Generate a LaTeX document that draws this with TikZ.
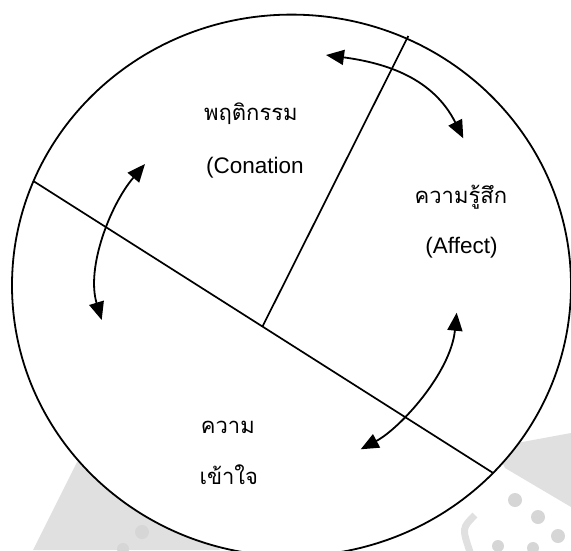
\documentclass[tikz,border=0pt]{standalone}
\usepackage{fontspec}
\setmainfont{Liberation Sans}
\newfontfamily\thaifont[Script=Thai]{Loma}
\usetikzlibrary{arrows.meta}
\definecolor{wm}{HTML}{E0E0E0}
\definecolor{wmdot}{HTML}{D6D6D6}
\tikzset{
  thai/.style={inner sep=0pt, font=\thaifont\fontsize{22}{26}\selectfont},
  latin/.style={inner sep=0pt, font=\fontsize{22.5}{26}\selectfont},
  divider/.style={line width=1.7pt, black},
  dblarrow/.style={line width=1.8pt, {Triangle[length=18pt,width=15pt]}-{Triangle[length=18pt,width=15pt]}},
}
\begin{document}
\begin{tikzpicture}[x=1pt,y=-1pt]
\useasboundingbox (0,0) rectangle (571,550);
% faint watermark
\fill[wm] (33,550) -- (77,462) -- (170,470) -- (220,550) -- cycle;
\fill[wm] (495,447) -- (571,433) -- (571,507) -- (505,468) -- cycle;
\fill[wmdot] (142,532) circle (7);
\fill[wmdot] (123,549) circle (6);
\fill[wmdot] (515,500) circle (7);
\fill[wmdot] (538,517) circle (7);
\fill[wmdot] (558,536) circle (7);
\fill[wmdot] (533,548) circle (6);
\fill[wmdot] (498,546) circle (6);
\draw[wm, line width=7pt] (475,515) .. controls (462,528) .. (470,552);
% ellipse
\filldraw[fill=white, draw=black, line width=1.8pt] (291.5,285.4) ellipse [x radius=279.5, y radius=270.8];
% dividers
\coordinate (L1a) at (33.3,181);
\coordinate (L1b) at (492.7,472.7);
\coordinate (L2a) at (408.3,36);
\coordinate (L2b) at (262.5,326.5);
\draw[divider] (L1a) -- (L1b);
\draw[divider] (L2a) -- (L2b);
% arrows
\coordinate (A1) at (326,55);
\coordinate (A2) at (463.3,138.3);
\coordinate (B1) at (145,164);
\coordinate (B2) at (101.7,320);
\coordinate (C1) at (456.7,312.7);
\coordinate (C2) at (360.7,449.3);
\draw[dblarrow] (A1) .. controls (386,63) and (433,78) .. (A2);
\draw[dblarrow] (B1) .. controls (110,205) and (86,268) .. (B2);
\draw[dblarrow] (C1) .. controls (450.7,372.7) and (400.3,428.2) .. (C2);
% labels
\node[thai, anchor=base] (t1) at (250.9,120.7) {พฤติกรรม};
\node[latin, anchor=base] (t2) at (255,173.3) {(Conation};
\node[thai, anchor=base] (t3) at (460.9,203.3) {ความรู้สึก};
\node[latin, anchor=base] (t4) at (461.5,253) {(Affect)};
\node[thai, anchor=base west] (t5) at (200.7,433.3) {ความ};
\node[thai, anchor=base west] (t6) at (199.3,484) {เข้าใจ};
\end{tikzpicture}
\end{document}
